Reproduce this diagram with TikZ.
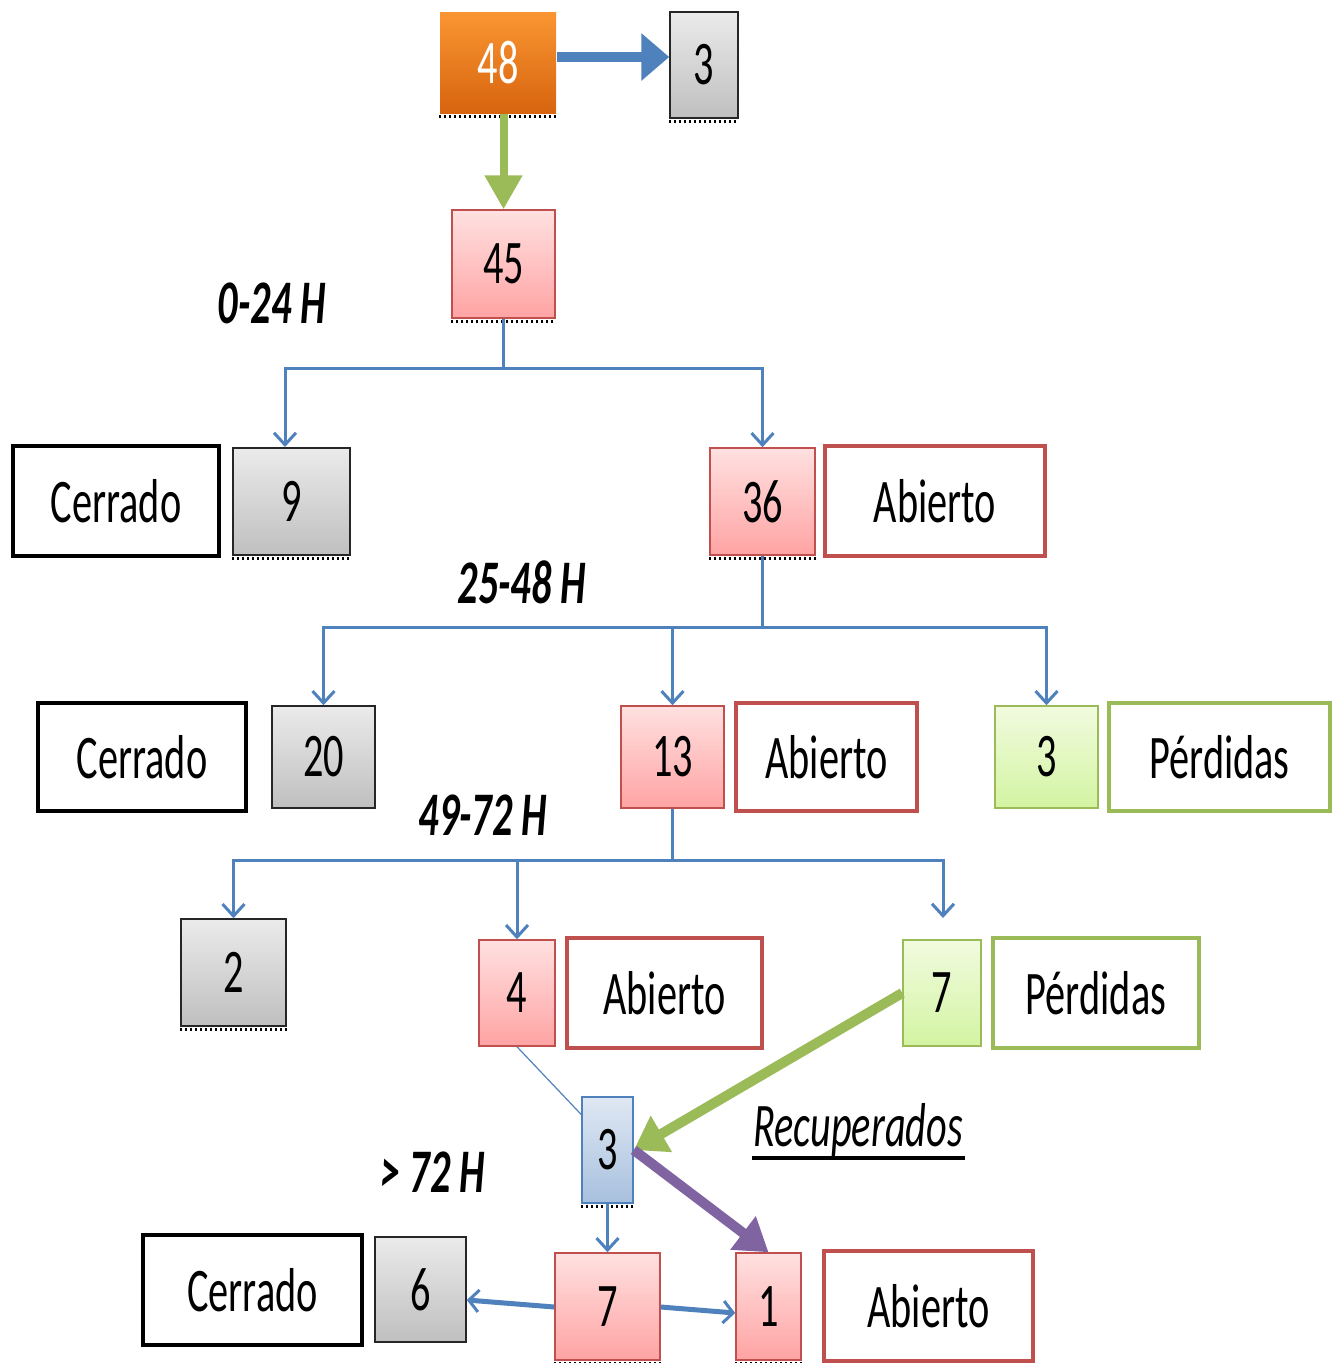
\documentclass[tikz,border=0pt]{standalone}
\usepackage{fontspec}
\setmainfont{Carlito}[FakeStretch=0.65]
\usetikzlibrary{arrows.meta,calc}
\definecolor{obl}{HTML}{4F81BD}
\definecolor{ored}{HTML}{C0504D}
\definecolor{ogr}{HTML}{9BBB59}
\definecolor{opu}{HTML}{8064A2}
\definecolor{gtop}{HTML}{F1FBDF}
\definecolor{gbot}{HTML}{D3F4A2}
\newcommand\bx[7]{\node[#6,minimum width={(#4-#2)*1pt},minimum height={(#5-#3)*1pt}] (#1) at ({(#2+#4)/2},{(#3+#5)/2}) {#7};}
\newcommand\serrline[1]{\draw[serr] ([yshift=-3pt]#1.south west) -- ([yshift=-3pt]#1.south east);}
\begin{document}
\begin{tikzpicture}[x=1pt,y=-1pt,
  txt/.style={font=\fontsize{62}{70}\selectfont, inner sep=0pt, text=black},
  basebox/.style={txt, rectangle, line width=1.5pt},
  graybox/.style={basebox, draw=black!85, top color=black!8, bottom color=black!25},
  pinkbox/.style={basebox, draw=ored, top color=red!12, bottom color=red!36},
  greenbox/.style={basebox, draw=ogr, top color=gtop, bottom color=gbot},
  bluebox/.style={basebox, draw=obl, top color=obl!18, bottom color=obl!50},
  orangebox/.style={basebox, draw=none, top color={rgb,255:red,250;green,150;blue,50}, bottom color={rgb,255:red,215;green,100;blue,15}, text=white},
  blackbox/.style={txt, draw=black, line width=4.5pt, fill=white},
  redbox/.style={txt, draw=ored, line width=4pt, fill=white},
  grnbox/.style={txt, draw=ogr, line width=4pt, fill=white},
  hlabel/.style={font=\fontsize{62}{70}\selectfont\bfseries\itshape, inner sep=0pt},
  conn/.style={draw=obl, line width=3pt, -{Straight Barb[length=12pt,width=22pt,line width=3pt]}},
  serr/.style={draw=black, line width=3pt, dash pattern=on 1.5pt off 3.5pt},
]
\useasboundingbox (0,0) rectangle (1336,1363);

% boxes
\bx{n48}{440}{12}{556}{113}{orangebox}{48}
\bx{n3t}{670}{12}{738}{118}{graybox}{3}
\bx{n45}{452}{210}{555}{318}{pinkbox}{45}
\node[hlabel] (l1) at (272,303) {0-24 H};
\bx{c1}{13}{446}{219}{556}{blackbox}{Cerrado}
\bx{n9}{233}{448}{350}{555}{graybox}{9}
\bx{n36}{710}{448}{815}{555}{pinkbox}{36}
\bx{a1}{825}{446}{1045}{556}{redbox}{Abierto}
\node[hlabel] (l2) at (522,582) {25-48 H};
\bx{c2}{38}{703}{246}{811}{blackbox}{Cerrado}
\bx{n20}{272}{706}{375}{808}{graybox}{20}
\bx{n13}{621}{706}{724}{808}{pinkbox}{13}
\bx{a2}{736}{703}{917}{811}{redbox}{Abierto}
\bx{n3g}{995}{706}{1098}{808}{greenbox}{3}
\bx{p1}{1109}{703}{1330}{811}{grnbox}{Pérdidas}
\node[hlabel] (l3) at (483,815) {49-72 H};
\bx{n2}{181}{919}{286}{1026}{graybox}{2}
\bx{n4}{479}{940}{555}{1046}{pinkbox}{4}
\bx{a3}{567}{938}{762}{1048}{redbox}{Abierto}
\bx{n7g}{903}{940}{981}{1046}{greenbox}{7}
\bx{p2}{993}{938}{1199}{1048}{grnbox}{Pérdidas}
\bx{n3b}{582}{1097}{633}{1203}{bluebox}{3}
\node[txt, font=\fontsize{62}{70}\selectfont\itshape] (rec) at (858,1130) {Recuperados};
\node[hlabel] (l4) at (433,1172) {> 72 H};
\bx{c3}{143}{1235}{362}{1345}{blackbox}{Cerrado}
\bx{n6}{375}{1237}{466}{1342}{graybox}{6}
\bx{n7p}{555}{1253}{660}{1360}{pinkbox}{7}
\bx{n1}{736}{1253}{801}{1360}{pinkbox}{1}
\bx{a4}{824}{1251}{1033}{1361}{redbox}{Abierto}

% underline of Recuperados
\draw[line width=4.5pt] (752,1158) -- (965,1158);

% serrated shadows
\serrline{n48}\serrline{n3t}\serrline{n45}\serrline{n9}\serrline{n36}
\serrline{n2}\serrline{n3b}\serrline{n7p}\serrline{n1}

% thick top arrows
\draw[draw=obl, line width=10pt, -{Triangle[width=46pt,length=28pt]}] (n48.east |- 0,57) -- (n3t.west |- 0,57);
\draw[draw=ogr, line width=8pt, -{Triangle[width=36pt,length=34pt]}] (n45.north |- n48.south) -- (n45.north);

% tree connectors
\coordinate (t9) at (285,447);
\draw[conn] (n45.south) -- (n45.south |- 0,368) -| (t9);
\draw[conn] (n45.south |- 0,368) -| (n36.north);

\draw[conn] (n36.south) -- (n36.south |- 0,627) -| (n20.north);
\draw[conn] (n36.south |- 0,627) -| (n13.north);
\draw[conn] (n36.south |- 0,627) -| (n3g.north);

\coordinate (t7) at (943,918);
\draw[conn] (n13.south) -- (n13.south |- 0,860) -| (n2.north);
\draw[conn] (n13.south |- 0,860) -| (n4.north);
\draw[conn] (n13.south |- 0,860) -| (t7);

% recovered
\draw[draw=obl, line width=1.2pt] (n4.south) -- ($(n3b.north west)!0.17!(n3b.south west)$);
\draw[draw=ogr, line width=10pt, -{Triangle[width=40pt,length=32pt]}] (n7g.west) -- (n3b.east);
\draw[draw=opu, line width=10pt, -{Triangle[width=40pt,length=32pt]}] (n3b.east) -- (n1.north);
\draw[conn] (n3b.south) -- (n7p.north);

% bottom row arrows
\draw[draw=obl, line width=5pt, -{Straight Barb[length=10pt,width=22pt,line width=3pt]}] (n7p.west |- 0,1307) -- (n6.east |- 0,1300);
\draw[draw=obl, line width=5pt, -{Straight Barb[length=10pt,width=22pt,line width=3pt]}] (n7p.east |- 0,1307) -- (n1.west |- 0,1313);
\end{tikzpicture}
\end{document}
